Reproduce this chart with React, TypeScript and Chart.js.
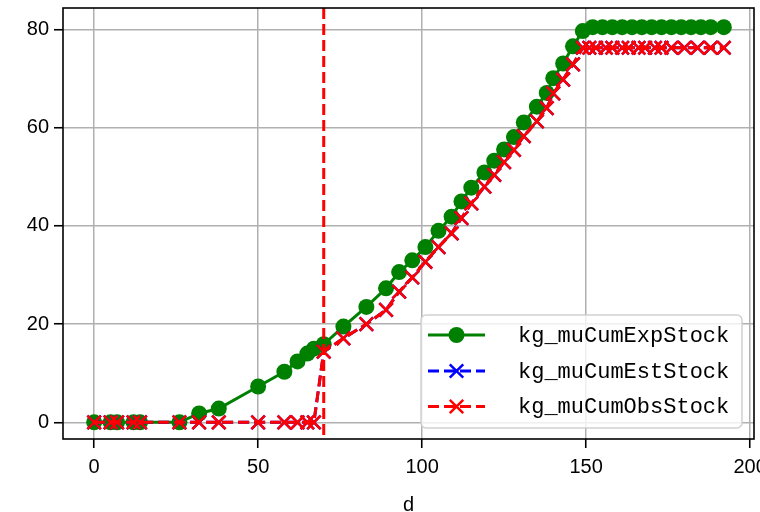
import React, { useEffect, useRef } from "react";
import { Chart, registerables } from "chart.js";

Chart.register(...registerables);

// ---- data ----
const DAYS_EXP = [0, 5, 7, 12, 14, 26, 32, 38, 50, 58, 62, 65, 67, 70, 76, 83, 89, 93, 97, 101, 105, 109, 112, 115, 119, 122, 125, 128, 131, 135, 138, 140, 143, 146, 149, 152, 155, 158, 161, 164, 167, 170, 173, 176, 179, 182, 185, 188, 192];
const EXP_STOCK = [0, 0, 0, 0, 0, 0, 1.8, 2.8, 7.3, 10.3, 12.4, 14.0, 15.0, 15.9, 19.5, 23.5, 27.3, 30.6, 33.0, 35.7, 39.0, 41.9, 45.0, 47.8, 50.9, 53.3, 55.6, 58.1, 61.1, 64.3, 67.1, 70.1, 73.1, 76.6, 79.7, 80.5, 80.5, 80.5, 80.5, 80.5, 80.5, 80.5, 80.5, 80.5, 80.5, 80.5, 80.5, 80.5, 80.5];

const DAYS_OBS = [0, 5, 7, 12, 14, 26, 32, 38, 50, 58, 62, 65, 67, 70, 76, 83, 89, 93, 97, 101, 105, 109, 112, 115, 119, 122, 125, 128, 131, 135, 138, 140, 143, 146, 149, 151, 153, 156, 158, 161, 163, 166, 168, 171, 173, 176, 180, 184, 188, 192];
const OBS_STOCK = [0, 0, 0, 0, 0, 0, 0, 0, 0, 0, 0, 0, 0, 14.4, 17.1, 20.0, 22.9, 26.6, 29.5, 32.7, 35.7, 38.5, 41.6, 44.6, 48.0, 50.4, 53.0, 55.5, 58.3, 61.3, 64.0, 67.0, 69.8, 72.9, 76.3, 76.3, 76.3, 76.3, 76.3, 76.3, 76.3, 76.3, 76.3, 76.3, 76.3, 76.3, 76.3, 76.3, 76.3, 76.3];
const EST_STOCK = OBS_STOCK.slice();

const SERIES_LABELS = ["kg_muCumExpStock", "kg_muCumEstStock", "kg_muCumObsStock"];
const X_TICKS = [0, 50, 100, 150, 200];
const Y_TICKS = [0, 20, 40, 60, 80];
const X_LABEL = "d";
const VLINE_X = 70;
const X_RANGE = [-9.5, 201.2];
const Y_RANGE = [-3.4, 84.4];

const TICK_FONT = { family: "'Liberation Sans', Arial, sans-serif", size: 20 };
const TITLE_FONT = { family: "'Liberation Sans', Arial, sans-serif", size: 20, lineHeight: 0.7 };
const LEGEND_FONT = "22px 'Liberation Mono', monospace";

const pts = (xs: number[], ys: number[]) => xs.map((x, i) => ({ x, y: ys[i] }));

function drawMarker(ctx: CanvasRenderingContext2D, style: string, cx: number, cy: number, r: number, color: string, bw: number) {
  ctx.save();
  ctx.setLineDash([]);
  if (style === "circle") {
    ctx.fillStyle = color;
    ctx.beginPath();
    ctx.arc(cx, cy, r, 0, Math.PI * 2);
    ctx.fill();
  } else {
    const d = r * Math.SQRT1_2;
    ctx.strokeStyle = color;
    ctx.lineWidth = bw;
    ctx.beginPath();
    ctx.moveTo(cx - d, cy - d);
    ctx.lineTo(cx + d, cy + d);
    ctx.moveTo(cx + d, cy - d);
    ctx.lineTo(cx - d, cy + d);
    ctx.stroke();
  }
  ctx.restore();
}

const decorPlugin = {
  id: "decor",
  afterDatasetsDraw(chart: any) {
    const { ctx, chartArea } = chart;
    const { left, right, top, bottom } = chartArea;
    const xs = chart.scales.x;
    const px = xs.getPixelForValue(VLINE_X);
    ctx.save();
    ctx.beginPath();
    ctx.rect(left, top, right - left, bottom - top);
    ctx.clip();
    ctx.strokeStyle = "#ff0000";
    ctx.lineWidth = 3;
    ctx.setLineDash([11, 5]);
    ctx.beginPath();
    ctx.moveTo(px, top);
    ctx.lineTo(px, bottom);
    ctx.stroke();
    ctx.restore();

    ctx.save();
    ctx.strokeStyle = "#000";
    ctx.lineWidth = 1.6;
    ctx.strokeRect(left, top, right - left, bottom - top);
    ctx.restore();
  },
  afterDraw(chart: any) {
    const { ctx } = chart;
    const bx = 421, by = 315, bw = 321, bh = 113;
    ctx.save();
    ctx.fillStyle = "rgba(255,255,255,0.8)";
    ctx.strokeStyle = "rgba(204,204,204,0.9)";
    ctx.lineWidth = 1.5;
    ctx.beginPath();
    (ctx as any).roundRect(bx, by, bw, bh, 5);
    ctx.fill();
    ctx.stroke();
    ctx.restore();

    const rows = [335, 371, 406.5];
    chart.data.datasets.forEach((ds: any, i: number) => {
      const y = rows[i];
      ctx.save();
      ctx.strokeStyle = ds.borderColor;
      ctx.lineWidth = ds.borderWidth;
      ctx.setLineDash(ds.borderDash || []);
      ctx.beginPath();
      ctx.moveTo(428, y);
      ctx.lineTo(485, y);
      ctx.stroke();
      ctx.restore();
      drawMarker(ctx, ds.pointStyle, 456.5, y, ds.pointRadius, ds.pointBackgroundColor || ds.borderColor, ds.pointBorderWidth);
      ctx.save();
      ctx.fillStyle = "#000";
      ctx.font = LEGEND_FONT;
      ctx.textBaseline = "middle";
      ctx.textAlign = "left";
      ctx.fillText(ds.label, 518, y + 1);
      ctx.restore();
    });
  },
};

export default function App() {
  const ref = useRef<HTMLCanvasElement | null>(null);
  useEffect(() => {
    if (!ref.current) return;
    const chart = new Chart(ref.current, {
      type: "line",
      data: {
        datasets: [
          {
            label: SERIES_LABELS[0],
            data: pts(DAYS_EXP, EXP_STOCK),
            borderColor: "#008000",
            backgroundColor: "#008000",
            pointBackgroundColor: "#008000",
            borderWidth: 3,
            pointStyle: "circle",
            pointRadius: 8,
            pointBorderWidth: 0,
            order: 3,
          },
          {
            label: SERIES_LABELS[1],
            data: pts(DAYS_OBS, EST_STOCK),
            borderColor: "#0000ff",
            backgroundColor: "#0000ff",
            borderWidth: 3,
            borderDash: [11, 5],
            pointStyle: "crossRot",
            pointRadius: 9.5,
            pointBorderWidth: 2.5,
            order: 2,
          },
          {
            label: SERIES_LABELS[2],
            data: pts(DAYS_OBS, OBS_STOCK),
            borderColor: "#ff0000",
            backgroundColor: "#ff0000",
            borderWidth: 3,
            borderDash: [11, 5],
            pointStyle: "crossRot",
            pointRadius: 9.5,
            pointBorderWidth: 2.5,
            order: 1,
          },
        ] as any,
      },
      options: {
        animation: false,
        responsive: false,
        devicePixelRatio: 1,
        layout: { autoPadding: false, padding: { left: 0, right: 6, top: 8, bottom: 0 } },
        plugins: { legend: { display: false }, tooltip: { enabled: false } },
        elements: { line: { tension: 0 } },
        scales: {
          x: {
            type: "linear",
            min: X_RANGE[0],
            max: X_RANGE[1],
            afterBuildTicks: (s: any) => { s.ticks = X_TICKS.map((v) => ({ value: v })); },
            afterFit: (s: any) => { s.height = 73; s.paddingLeft = 0; s.paddingRight = 0; },
            border: { display: false },
            grid: { color: "#b0b0b0", lineWidth: 1.5, tickColor: "#000", tickLength: 9, tickWidth: 1.6 },
            ticks: { color: "#000", font: TICK_FONT, padding: 7, maxRotation: 0, autoSkip: false },
            title: { display: true, text: X_LABEL, color: "#000", font: TITLE_FONT, padding: { top: 0, bottom: 0 } },
          },
          y: {
            type: "linear",
            min: Y_RANGE[0],
            max: Y_RANGE[1],
            afterBuildTicks: (s: any) => { s.ticks = Y_TICKS.map((v) => ({ value: v })); },
            afterFit: (s: any) => { s.width = 63; s.paddingTop = 0; s.paddingBottom = 0; },
            border: { display: false },
            grid: { color: "#b0b0b0", lineWidth: 1.5, tickColor: "#000", tickLength: 9, tickWidth: 1.6 },
            ticks: { color: "#000", font: TICK_FONT, padding: 5, autoSkip: false },
          },
        },
      } as any,
      plugins: [decorPlugin],
    });
    return () => chart.destroy();
  }, []);
  return (
    <div style={{ position: "absolute", left: 0, top: 0, width: 760, height: 512, background: "#fff" }}>
      <canvas ref={ref} width={760} height={512} style={{ display: "block", width: 760, height: 512 }} />
    </div>
  );
}
